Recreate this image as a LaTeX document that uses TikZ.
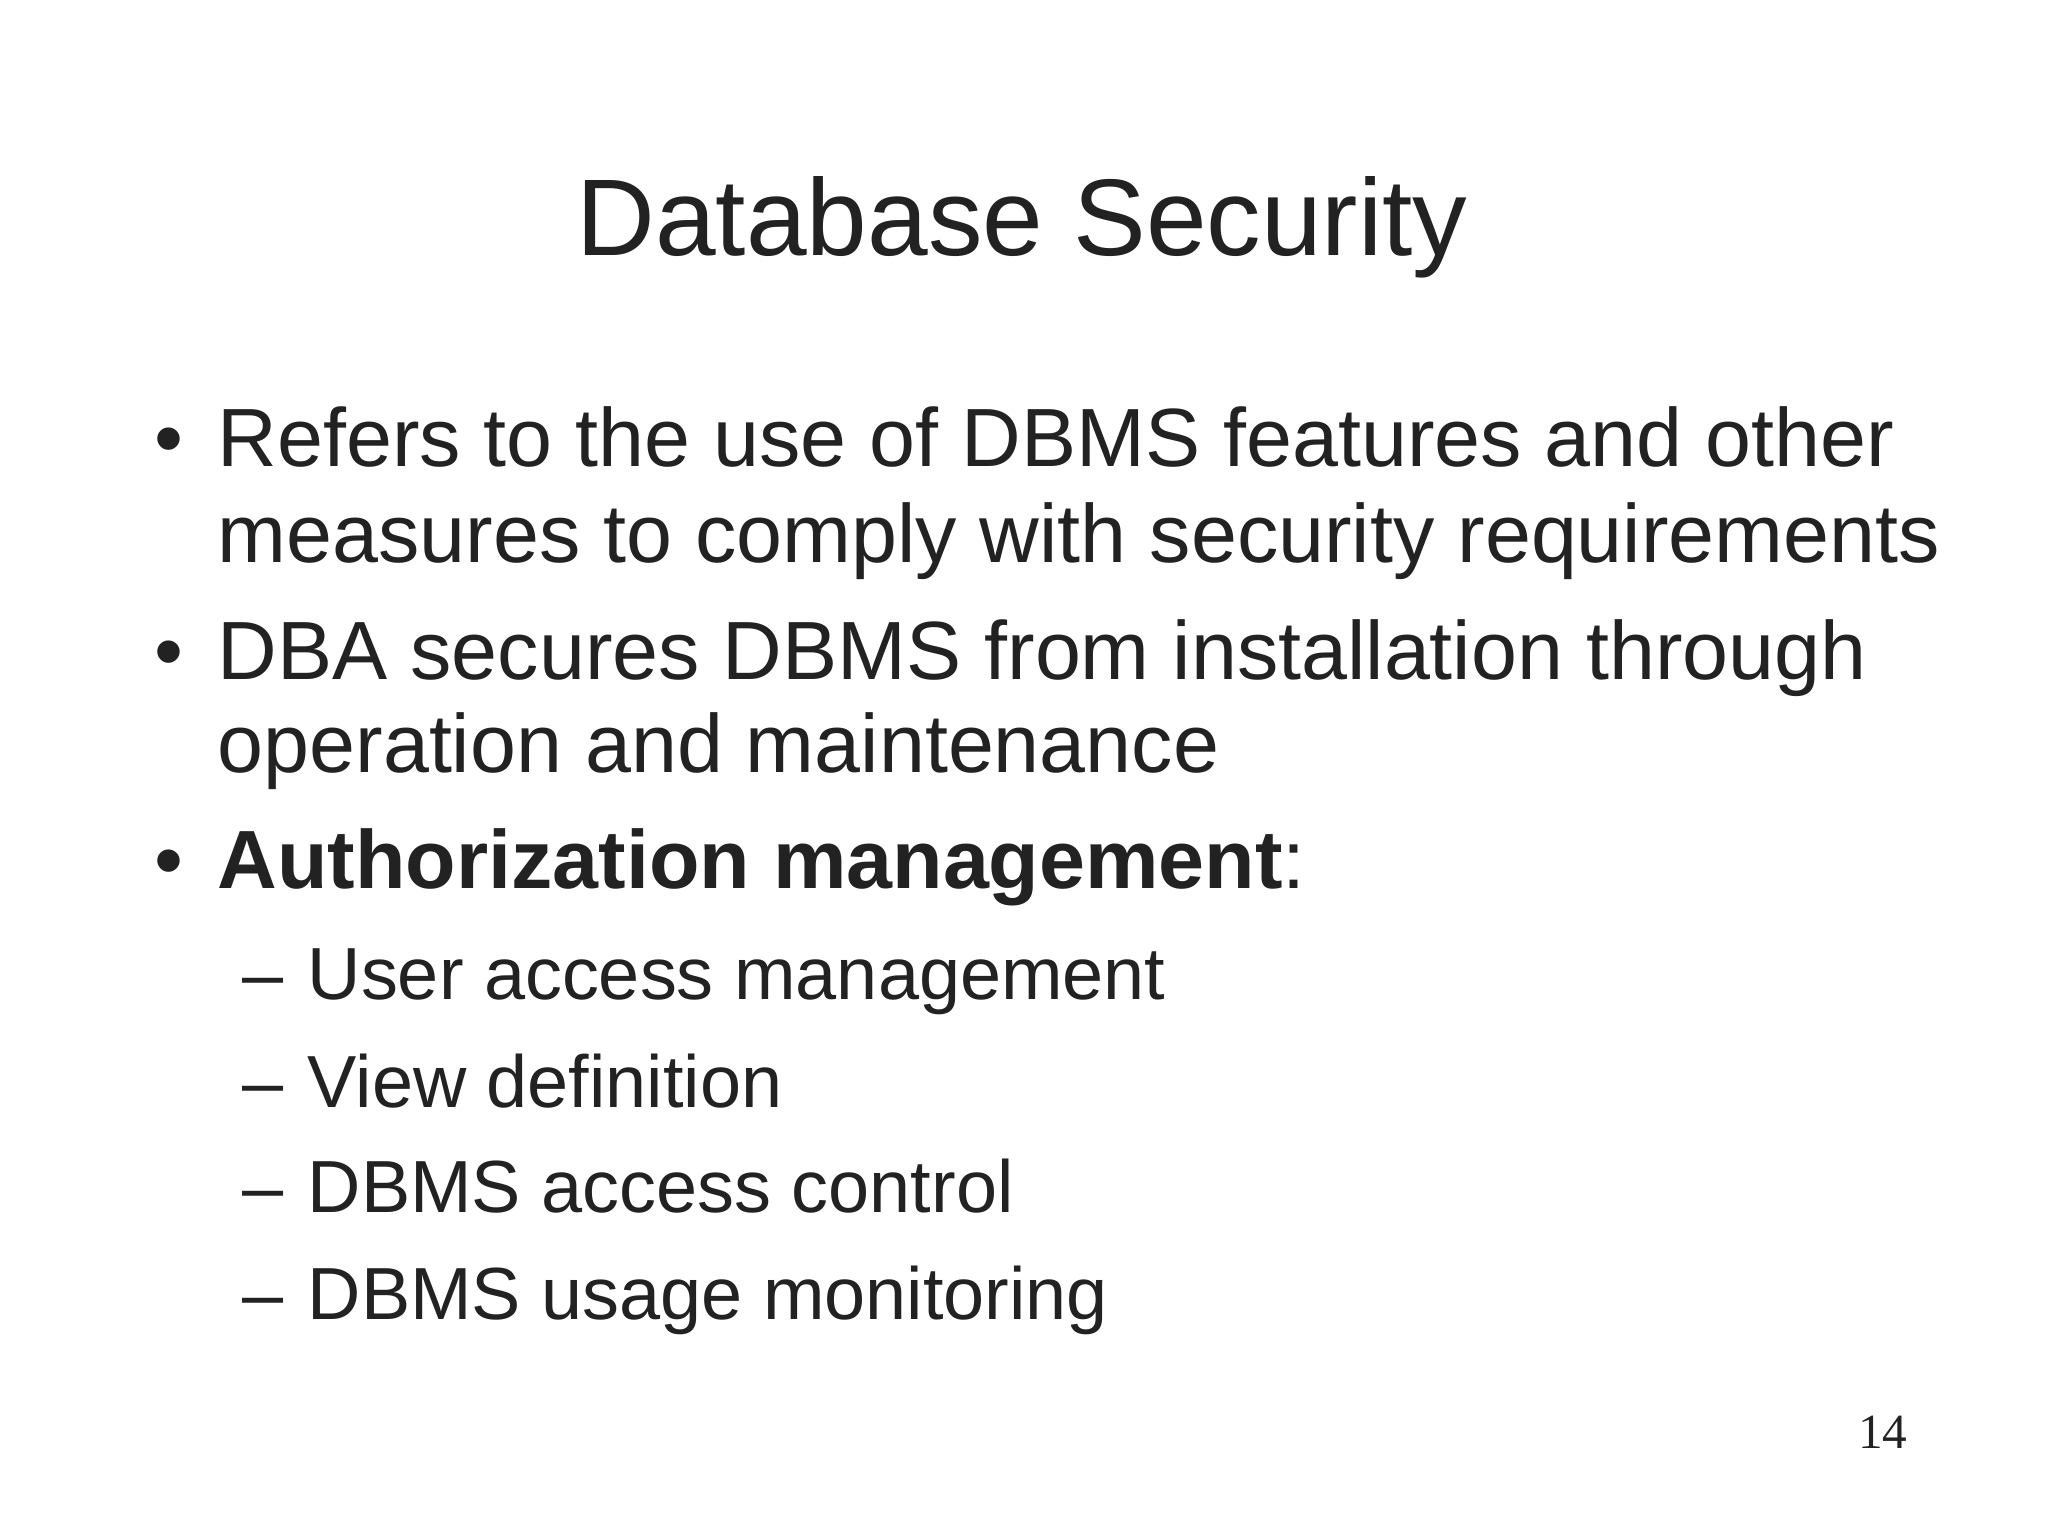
\documentclass[tikz,border=0pt]{standalone}
\usepackage{fontspec}
\setmainfont{Liberation Sans}
\newfontfamily\serifnum{Liberation Serif}
\definecolor{txt}{HTML}{222222}
\begin{document}
\begin{tikzpicture}[x=0.01cm,y=-0.01cm,
  body/.style={anchor=base west,inner sep=0,text=txt,font=\fontsize{23.5pt}{28pt}\selectfont},
  sub/.style={anchor=base west,inner sep=0,text=txt,font=\fontsize{21pt}{25pt}\selectfont}]
\useasboundingbox[fill=white] (0,0) rectangle (2048,1536);
\node[anchor=base,inner sep=0,text=txt,font=\fontsize{31pt}{36pt}\selectfont] (title) at (1022,255) {Database Security};
\node[body] (b1) at (154,466) {•};
\node[body] (t1a) at (217,466) {Refers to the use of DBMS features and other};
\node[body] (t1b) at (217,562) {measures to comply with security requirements};
\node[body] (b2) at (154,679) {•};
\node[body] (t2a) at (217,679) {DBA secures DBMS from installation through};
\node[body] (t2b) at (217,772) {operation and maintenance};
\node[body] (b3) at (154,888) {•};
\node[body] (t3) at (217,888) {\textbf{Authorization management}:};
\node[sub] (d1) at (242,999) {–};
\node[sub] (s1) at (307,999) {User access management};
\node[sub] (d2) at (242,1107) {–};
\node[sub] (s2) at (307,1107) {View definition};
\node[sub] (d3) at (242,1212) {–};
\node[sub] (s3) at (307,1212) {DBMS access control};
\node[sub] (d4) at (242,1319) {–};
\node[sub] (s4) at (307,1319) {DBMS usage monitoring};
\node[anchor=base east,inner sep=0,text=txt,font=\serifnum\fontsize{14pt}{16pt}\selectfont] (pg) at (1908,1448) {14};
\end{tikzpicture}
\end{document}
